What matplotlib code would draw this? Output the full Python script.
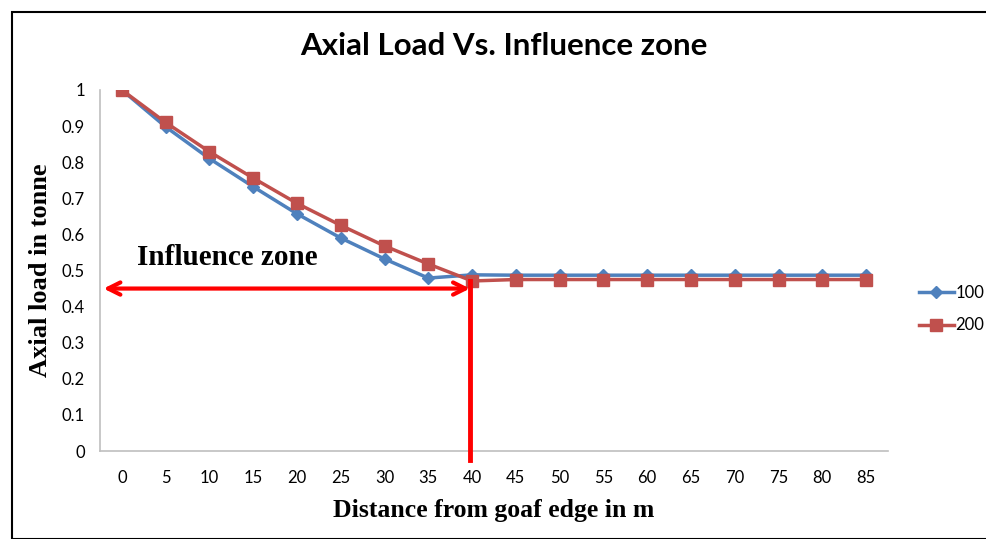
import matplotlib
matplotlib.use("Agg")
import matplotlib.pyplot as plt
from matplotlib.patches import Rectangle

sans = "Lato"
serif = "Liberation Serif"

distance = [0, 5, 10, 15, 20, 25, 30, 35, 40, 45, 50, 55, 60, 65, 70, 75, 80, 85]
series_100 = [1.0, 0.898, 0.81, 0.732, 0.657, 0.59, 0.532, 0.479, 0.488, 0.487, 0.487, 0.487,
              0.487, 0.487, 0.487, 0.487, 0.487, 0.487]
series_200 = [1.0, 0.91, 0.829, 0.756, 0.686, 0.625, 0.568, 0.518, 0.471, 0.475, 0.475, 0.475,
              0.475, 0.475, 0.475, 0.475, 0.475, 0.475]
y_ticks = [0, 0.1, 0.2, 0.3, 0.4, 0.5, 0.6, 0.7, 0.8, 0.9, 1]
y_tick_labels = ["0", "0.1", "0.2", "0.3", "0.4", "0.5", "0.6", "0.7", "0.8", "0.9", "1"]
zone_end_index = 8
arrow_level = 0.45

fig = plt.figure(figsize=(9.86, 5.39), dpi=100)
fig.patches.append(Rectangle((12/986, 0), 1.2, 1 - 12/539, transform=fig.transFigure,
                             fill=False, edgecolor="black", linewidth=1.5, clip_on=False))
ax = fig.add_axes([100/986, 1 - 451/539, 788/986, 361/539])

idx = list(range(len(distance)))
ax.plot(idx, series_100, color="#4F81BD", lw=2.5, marker="D", markersize=6.5,
        markeredgecolor="#4F81BD", label="100", zorder=3)
ax.plot(idx, series_200, color="#C0504D", lw=2.5, marker="s", markersize=9,
        markeredgecolor="#C0504D", label="200", zorder=4)

ax.set_xlim(-0.5, len(distance) - 0.5)
ax.set_ylim(0, 1)
ax.set_xticks(idx)
ax.set_xticklabels([str(d) for d in distance], fontfamily=sans, fontsize=12)
ax.set_yticks(y_ticks)
ax.set_yticklabels(y_tick_labels, fontfamily=sans, fontsize=12)
ax.tick_params(axis="x", length=0, pad=14)
ax.tick_params(axis="y", length=0, pad=11)
for s in ["top", "right"]:
    ax.spines[s].set_visible(False)
for s in ["left", "bottom"]:
    ax.spines[s].set_color("#BFBFBF")
    ax.spines[s].set_linewidth(1.2)

ax.set_xlabel("Distance from goaf edge in m", fontfamily=serif, fontweight="bold",
              fontsize=18.5, labelpad=9)
ax.set_ylabel("Axial load in tonne", fontfamily=serif, fontweight="bold",
              fontsize=19, labelpad=7)
fig.text(504/986, 1 - 46/539, "Axial Load Vs. Influence zone", ha="center", va="center",
         fontfamily=sans, fontweight="bold", fontsize=22.5)

# annotations
ax.annotate("", xy=(-0.42, arrow_level), xytext=(zone_end_index - 0.05, arrow_level),
            arrowprops=dict(arrowstyle="<->", color="#FF0000", lw=3, mutation_scale=22,
                            shrinkA=0, shrinkB=0), annotation_clip=False, zorder=5)
ax.plot([zone_end_index - 0.05, zone_end_index - 0.05], [series_200[zone_end_index], -0.025],
        color="#FF0000", lw=3.5, clip_on=False, zorder=5)
ax.text(0.35, 0.535, "Influence zone", fontfamily=serif, fontweight="bold", fontsize=21,
        ha="left", va="center")

fig.legend(loc="center left", bbox_to_anchor=(912/986, 1 - 309/539), frameon=False,
           prop={"family": sans, "size": 12}, handlelength=2.1, handletextpad=0.1,
           labelspacing=1.0, borderaxespad=0)

fig.savefig("out.png", dpi=100)
